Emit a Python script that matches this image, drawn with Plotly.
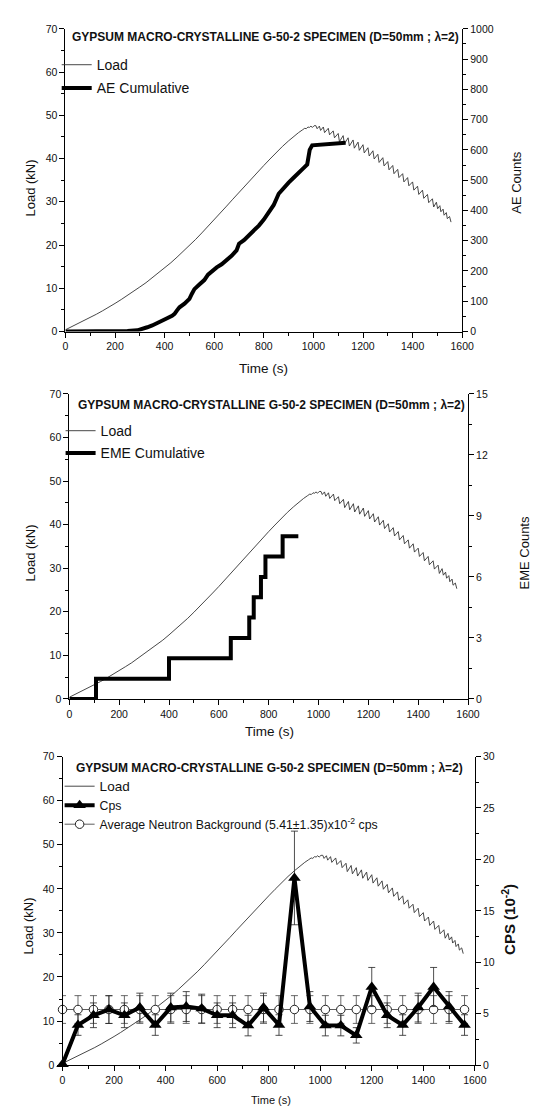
import plotly.graph_objects as go

# ---------------- data ----------------
load_time = [0, 25, 50, 75, 100, 125, 150, 175, 200, 225, 250, 275, 300, 325, 350, 375, 400, 425, 450, 475,
             500, 525, 550, 575, 600, 625, 650, 675, 700, 725, 750, 775, 800, 825, 850, 875, 900, 920, 940, 955,
             965, 971, 978, 984, 990, 996, 1003,
             1010, 1015, 1024, 1029, 1040, 1045, 1060, 1065, 1080, 1085,
             1100, 1105, 1120, 1125, 1140, 1145, 1160, 1165, 1180, 1185, 1200, 1205, 1220, 1225, 1240, 1245,
             1260, 1265, 1280, 1285, 1300, 1305, 1320, 1325, 1340, 1345, 1360, 1365, 1380, 1385, 1400, 1405,
             1420, 1425, 1440, 1445, 1460, 1465, 1480, 1485,
             1496, 1501, 1510, 1514, 1523, 1527, 1536, 1540, 1549, 1555]
load_kn = [0.4, 1.1, 1.8, 2.5, 3.2, 4.0, 4.8, 5.6, 6.5, 7.4, 8.3, 9.3, 10.3, 11.3, 12.4, 13.5, 14.7, 15.9, 17.2, 18.5,
           19.9, 21.3, 22.8, 24.3, 25.8, 27.4, 29.0, 30.6, 32.2, 33.8, 35.4, 36.9, 38.4, 39.9, 41.4, 42.8, 44.1, 45.1, 46.0, 46.6,
           47.0, 46.9, 47.3, 47.2, 47.5, 47.2, 47.6,
           47.6, 46.9, 47.5, 46.5, 47.3, 46.0, 47.0, 45.5, 46.4, 44.8,
           45.8, 43.9, 45.3, 43.4, 44.8, 42.9, 44.3, 42.4, 43.8, 41.9, 43.2, 41.3, 42.5, 40.6, 41.8, 39.9,
           41.0, 39.1, 40.2, 38.3, 39.3, 37.4, 38.4, 36.5, 37.5, 35.6, 36.5, 34.6, 35.6, 33.7, 34.6, 32.7,
           33.6, 31.7, 32.7, 30.8, 31.7, 29.8, 30.7, 28.8,
           29.9, 28.4, 29.1, 27.7, 28.3, 26.9, 27.5, 26.1, 26.6, 25.3]

ae_time = [0, 100, 200, 250, 290, 310, 330, 350, 370, 390, 410, 430, 440, 450, 460, 480, 500, 510, 520, 540,
           560, 575, 590, 610, 630, 650, 670, 690, 700, 720, 740, 760, 780, 800, 820, 840, 860, 880, 900, 920,
           940, 960, 975, 985, 995, 1050, 1100, 1130]
ae_counts = [0, 0, 1, 2, 4, 8, 14, 20, 27, 34, 44, 52, 58, 70, 80, 92, 108, 125, 140, 155,
             170, 188, 200, 212, 222, 235, 250, 268, 290, 302, 318, 332, 350, 370, 392, 418, 455, 475, 492, 508,
             522, 540, 552, 600, 615, 618, 621, 624]

eme_time = [0, 107, 400, 648, 722, 740, 769, 787, 856, 919]
eme_counts = [0, 1, 2, 3, 4, 5, 6, 7, 8, 8]

cps_time = [0, 60, 120, 180, 240, 300, 360, 420, 480, 540, 600, 660, 720, 780, 840, 900,
            960, 1020, 1080, 1140, 1200, 1260, 1320, 1380, 1440, 1500, 1560]
cps_val = [0.1, 3.9, 4.85, 5.4, 4.85, 5.6, 3.9, 5.6, 5.7, 5.5, 4.85, 4.85, 3.85, 5.6, 3.9, 18.2,
           5.7, 3.85, 3.85, 2.9, 7.6, 4.85, 3.9, 5.6, 7.6, 5.7, 3.9]
cps_err = [0.0, 1.0, 1.2, 1.35, 1.2, 1.4, 1.0, 1.4, 1.45, 1.4, 1.2, 1.2, 1.0, 1.4, 1.0, 4.55,
           1.45, 1.0, 1.0, 0.75, 1.9, 1.2, 1.0, 1.4, 1.9, 1.45, 1.0]
bg_val = [5.41, 5.41, 5.41, 5.41, 5.41, 5.41, 5.41, 5.41, 5.41, 5.41, 5.41, 5.41, 5.41, 5.41,
          5.41, 5.41, 5.41, 5.41, 5.41, 5.41, 5.41, 5.41, 5.41, 5.41, 5.41, 5.41, 5.41]
bg_err = [1.35, 1.35, 1.35, 1.35, 1.35, 1.35, 1.35, 1.35, 1.35, 1.35, 1.35, 1.35, 1.35, 1.35,
          1.35, 1.35, 1.35, 1.35, 1.35, 1.35, 1.35, 1.35, 1.35, 1.35, 1.35, 1.35, 1.35]

TITLE = "GYPSUM MACRO-CRYSTALLINE G-50-2 SPECIMEN (D=50mm ; λ=2)"

# ---------------- layout helpers ----------------
W, H = 543, 1106
FONT = "Liberation Sans, Arial, sans-serif"
TXT = "#111111"
LOAD_COLOR = "#333333"


def px(x):
    return x / W


def py(y):
    return 1 - y / H


def xaxis(domain, anchor):
    return dict(domain=domain, anchor=anchor, range=[0, 1600], tickmode="linear", tick0=0, dtick=200,
                ticks="outside", ticklen=5, tickwidth=1, tickcolor="black",
                minor=dict(dtick=100, ticks="outside", ticklen=3, tickwidth=1, tickcolor="black"),
                showline=True, linecolor="black", linewidth=1, showgrid=False, zeroline=False,
                tickfont=dict(family=FONT, size=10.5, color=TXT))


def yaxis(domain, anchor, rng, dtick, minor, side="left", overlaying=None):
    d = dict(anchor=anchor, range=rng, tickmode="linear", tick0=0, dtick=dtick, side=side,
             ticks="outside", ticklen=5, tickwidth=1, tickcolor="black",
             minor=dict(dtick=minor, ticks="outside", ticklen=3, tickwidth=1, tickcolor="black"),
             showline=True, linecolor="black", linewidth=1, showgrid=False, zeroline=False,
             tickfont=dict(family=FONT, size=10.5, color=TXT))
    if overlaying:
        d["overlaying"] = overlaying
    else:
        d["domain"] = domain
    return d


fig = go.Figure()

# Panel 1
fig.add_trace(go.Scatter(x=load_time, y=load_kn, mode="lines", name="Load",
                         line=dict(color=LOAD_COLOR, width=0.9), xaxis="x", yaxis="y",
                         legend="legend", legendgroup="p1a", legendrank=1))
fig.add_trace(go.Scatter(x=ae_time, y=ae_counts, mode="lines", name="AE Cumulative",
                         line=dict(color="black", width=4), xaxis="x", yaxis="y2",
                         legend="legend", legendgroup="p1b", legendrank=2))

# Panel 2
fig.add_trace(go.Scatter(x=load_time, y=load_kn, mode="lines", name="Load",
                         line=dict(color=LOAD_COLOR, width=0.9), xaxis="x2", yaxis="y3",
                         legend="legend2", legendgroup="p2a", legendrank=1))
fig.add_trace(go.Scatter(x=eme_time, y=eme_counts, mode="lines", name="EME Cumulative",
                         line=dict(color="black", width=4, shape="hv"), xaxis="x2", yaxis="y4",
                         legend="legend2", legendgroup="p2b", legendrank=2))

# Panel 3
fig.add_trace(go.Scatter(x=load_time, y=load_kn, mode="lines",
                         name='<span style="font-size:13.5px">Load</span>',
                         line=dict(color=LOAD_COLOR, width=0.9), xaxis="x3", yaxis="y5",
                         legend="legend3", legendgroup="p3a", legendrank=1))
fig.add_trace(go.Scatter(x=cps_time, y=bg_val, mode="lines+markers",
                         name="Average Neutron Background (5.41±1.35)x10<sup>-2</sup> cps",
                         line=dict(color="#333333", width=0.8),
                         marker=dict(symbol="circle", size=8.5, color="white", line=dict(color="#222222", width=1)),
                         error_y=dict(type="data", array=bg_err, visible=True, color="#444444", thickness=0.8, width=3.5),
                         xaxis="x3", yaxis="y6", legend="legend3", legendgroup="p3c", legendrank=3,
                         cliponaxis=False))
fig.add_trace(go.Scatter(x=cps_time, y=cps_val, mode="lines+markers", name="Cps",
                         line=dict(color="black", width=4),
                         marker=dict(symbol="triangle-up", size=11, color="black"),
                         error_y=dict(type="data", array=cps_err, visible=True, color="#222222", thickness=0.8, width=3.5),
                         xaxis="x3", yaxis="y6", legend="legend3", legendgroup="p3b", legendrank=2,
                         cliponaxis=False))

# domains (pixel based)
d1x, d1y = [px(56), px(464)], [py(321), py(15)]
d2x, d2y = [px(60), px(470)], [py(692.5), py(384)]
d3x, d3y = [px(53), px(477)], [py(1062.7), py(750.7)]

layout = dict(
    width=W, height=H, margin=dict(l=0, r=0, t=0, b=0),
    paper_bgcolor="white", plot_bgcolor="white",
    font=dict(family=FONT, color=TXT),
    xaxis=xaxis(d1x, "y"),
    yaxis=yaxis(d1y, "x", [0, 70], 10, 5),
    yaxis2=yaxis(None, "x", [0, 1000], 100, 50, side="right", overlaying="y"),
    xaxis2=xaxis(d2x, "y3"),
    yaxis3=yaxis(d2y, "x2", [0, 70], 10, 5),
    yaxis4=yaxis(None, "x2", [0, 15], 3, 1.5, side="right", overlaying="y3"),
    xaxis3=xaxis(d3x, "y5"),
    yaxis5=yaxis(d3y, "x3", [0, 70], 10, 5),
    yaxis6=yaxis(None, "x3", [0, 30], 5, 2.5, side="right", overlaying="y5"),
    legend=dict(x=px(47), y=py(35.5), xanchor="left", yanchor="top", bgcolor="rgba(0,0,0,0)",
                font=dict(family=FONT, size=14, color=TXT), traceorder="grouped", tracegroupgap=2),
    legend2=dict(x=px(51), y=py(405.5), xanchor="left", yanchor="top", bgcolor="rgba(0,0,0,0)",
                 font=dict(family=FONT, size=14, color=TXT), traceorder="grouped", tracegroupgap=1),
    legend3=dict(x=px(50), y=py(766), xanchor="left", yanchor="top", bgcolor="rgba(0,0,0,0)",
                 font=dict(family=FONT, size=12.3, color=TXT), traceorder="grouped", tracegroupgap=0),
)

ann = []


def add_text(text, x, y, size, angle=0, bold=False):
    ann.append(dict(text=f"<b>{text}</b>" if bold else text, x=px(x), y=py(y), xref="paper", yref="paper",
                    showarrow=False, textangle=angle, xanchor="center", yanchor="middle",
                    font=dict(family=FONT, size=size, color=TXT)))


# panel titles
add_text(TITLE, 262, 23.5, 12.0, bold=True)
add_text(TITLE, 268, 395, 12.0, bold=True)
add_text(TITLE, 266, 762, 12.0, bold=True)
# axis titles panel 1
add_text("Load (kN)", 20, 176, 13, angle=-90)
add_text("AE Counts", 520, 170, 13, angle=-90)
add_text("Time (s)", 260, 358, 13.5)
# panel 2
add_text("Load (kN)", 20, 545, 13, angle=-90)
add_text("EME Counts", 528, 545, 13, angle=-90)
add_text("Time (s)", 266, 725, 13.5)
# panel 3
add_text("Load (kN)", 18, 922, 13, angle=-90)
add_text("CPS (10<sup>-2</sup>)", 511, 915, 15, angle=-90, bold=True)
add_text("Time (s)", 267, 1098, 11)

layout["annotations"] = ann
fig.update_layout(**layout)

fig.write_html("out.html")
